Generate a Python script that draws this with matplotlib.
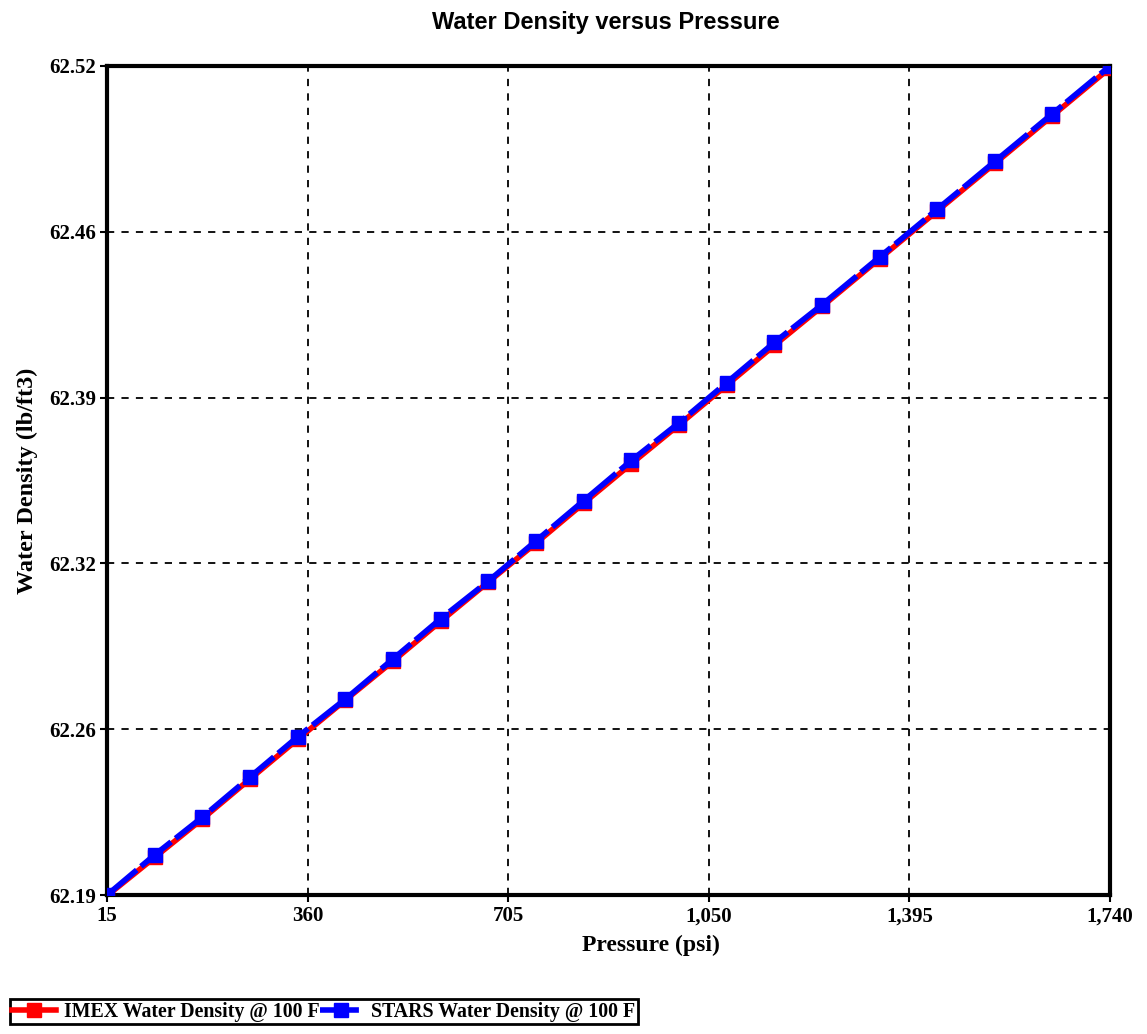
import matplotlib
matplotlib.use("Agg")
import matplotlib.pyplot as plt

# -----------------------------
# Data
# -----------------------------
pressure = [15, 97, 179, 261, 343, 425, 507, 589, 671, 753, 835,
            917, 999, 1081, 1163, 1245, 1344, 1443, 1542, 1641, 1740]

imex_density = [62.1897, 62.2050, 62.2203, 62.2362, 62.2520, 62.2676, 62.2831,
                62.2990, 62.3146, 62.3301, 62.3460, 62.3617, 62.3772, 62.3930,
                62.4088, 62.4243, 62.4433, 62.4623, 62.4812, 62.5002, 62.5192]

stars_density = [62.190, 62.206, 62.221, 62.237, 62.253, 62.268, 62.284,
                 62.300, 62.315, 62.331, 62.347, 62.363, 62.378, 62.394,
                 62.410, 62.425, 62.444, 62.463, 62.482, 62.501, 62.520]

x_ticks = [15, 360, 705, 1050, 1395, 1740]
x_tick_labels = ["15", "360", "705", "1,050", "1,395", "1,740"]
y_ticks = [62.19, 62.256, 62.322, 62.388, 62.454, 62.52]
y_tick_labels = ["62.19", "62.26", "62.32", "62.39", "62.46", "62.52"]

serif = "Liberation Serif"
sans = "Liberation Sans"

# -----------------------------
# Figure
# -----------------------------
fig = plt.figure(figsize=(11.47, 10.34), dpi=100)
ax = fig.add_axes([0.0933, 0.1344, 0.8744, 0.8018])

ax.plot(pressure, imex_density, color="red", lw=4, marker="s", ms=10,
        mec="red", mfc="red", label="IMEX Water Density @ 100 F", zorder=3)
ax.plot(pressure, stars_density, color="blue", lw=4, marker="s", ms=10,
        mec="blue", mfc="blue", dashes=(7, 1), label="STARS Water Density @ 100 F",
        zorder=4)

ax.set_xlim(15, 1740)
ax.set_ylim(62.19, 62.52)
ax.set_xticks(x_ticks)
ax.set_xticklabels(x_tick_labels)
ax.set_yticks(y_ticks)
ax.set_yticklabels(y_tick_labels)

for lab in ax.get_xticklabels() + ax.get_yticklabels():
    lab.set_fontfamily(serif)
    lab.set_fontweight("bold")
    lab.set_fontsize(15)

ax.tick_params(direction="out", length=5, width=1.5, pad=3, colors="black")
ax.grid(True, color="black", linestyle=(0, (4, 4)), linewidth=1.3)
ax.set_axisbelow(True)
for sp in ax.spines.values():
    sp.set_linewidth(3)
    sp.set_color("black")

ax.set_xlabel("Pressure (psi)", fontfamily=serif, fontweight="bold", fontsize=17)
ax.xaxis.set_label_coords(0.542, -0.048)
ax.set_ylabel("Water Density (lb/ft3)", fontfamily=serif,
              fontweight="bold", fontsize=17.5)
ax.yaxis.set_label_coords(-0.069, 0.5)

fig.text(0.528, 0.978, "Water Density versus Pressure", ha="center", va="center",
         fontfamily=sans, fontweight="bold", fontsize=17)

leg = fig.legend(loc="lower left", bbox_to_anchor=(0.0, 0.0), ncol=2,
                 prop={"family": serif, "weight": "bold", "size": 14.3},
                 handlelength=2.2, handletextpad=0.4, columnspacing=0.0,
                 borderpad=0.12, fancybox=False, framealpha=1)
leg.get_frame().set_edgecolor("black")
leg.get_frame().set_linewidth(2)

plt.savefig("out.png", dpi=100)
plt.close()
